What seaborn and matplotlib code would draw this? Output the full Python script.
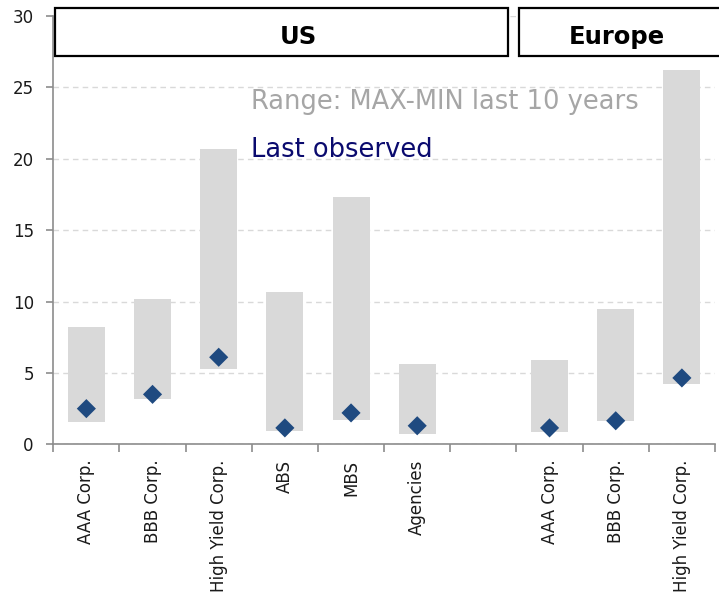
import matplotlib
matplotlib.use("Agg")
import matplotlib.pyplot as plt
from matplotlib.patches import Rectangle
import numpy as np
import pandas as pd
import seaborn as sns

# Spread ranges by segment (max/min over the last 10 years) and latest reading
categories = ["AAA Corp.", "BBB Corp.", "High Yield Corp.", "ABS", "MBS", "Agencies",
              "AAA Corp.", "BBB Corp.", "High Yield Corp."]
regions = ["US", "US", "US", "US", "US", "US", "Europe", "Europe", "Europe"]
range_max = [8.2, 10.15, 20.7, 10.65, 17.3, 5.6, 5.9, 9.45, 26.2]
range_min = [1.55, 3.15, 5.3, 0.95, 1.7, 0.75, 0.85, 1.6, 4.2]
last_observed = [2.5, 3.5, 6.1, 1.15, 2.2, 1.3, 1.15, 1.65, 4.65]
y_ticks = [0, 5, 10, 15, 20, 25, 30]

# Slot positions: one empty slot separates the US block from the European block
positions = [0, 1, 2, 3, 4, 5, 7, 8, 9]

df = pd.DataFrame({
    "pos": positions,
    "label": categories,
    "region": regions,
    "low": range_min,
    "span": np.array(range_max) - np.array(range_min),
    "last": last_observed,
})

sns.set_theme(style="white")
plt.rcParams["font.family"] = ["DejaVu Sans"]

fig = plt.figure(figsize=(7.19, 5.96), dpi=100)
ax = fig.add_axes([0.0741, 0.2545, 0.9203, 0.7185])

sns.barplot(data=df, x="pos", y="span", bottom=df["low"].to_numpy(), native_scale=True,
            width=0.56, color="#d9d9d9", saturation=1, edgecolor="none",
            errorbar=None, ax=ax, zorder=2)
sns.scatterplot(data=df, x="pos", y="last", marker="D", s=95, color="#1f4a80",
                edgecolor="none", ax=ax, zorder=3, legend=False)

ax.set_xlim(-0.5, 9.5)
ax.set_ylim(0, 30)
ax.set_yticks(y_ticks)
ax.set_yticklabels([str(t) for t in y_ticks], fontsize=12, color="#1a1a1a")

# Category labels at slot centres, tick marks at slot boundaries
ax.set_xticks(positions)
ax.set_xticklabels(categories, rotation=90, fontsize=12, color="#1a1a1a")
ax.tick_params(axis="x", length=0, pad=11)
ax.set_xticks(np.arange(-0.5, 10.0, 1.0), minor=True)
ax.tick_params(axis="x", which="minor", length=6, color="#8c8c8c", width=1.2, bottom=True)
ax.tick_params(axis="y", length=5, color="#8c8c8c", width=1.2, left=True, pad=9)
ax.set_xlabel("")
ax.set_ylabel("")

ax.yaxis.grid(True, linestyle=(0, (4, 3)), color="#d9d9d9", linewidth=1)
ax.set_axisbelow(True)
for side in ["top", "right"]:
    ax.spines[side].set_visible(False)
for side in ["left", "bottom"]:
    ax.spines[side].set_color("#8c8c8c")
    ax.spines[side].set_linewidth(1.2)

# Region header boxes
for x0, x1, xc, name in [(-0.47, 6.37, 3.2, "US"), (6.54, 10.2, 8.02, "Europe")]:
    ax.add_patch(Rectangle((x0, 27.2), x1 - x0, 3.35, facecolor="white",
                           edgecolor="black", linewidth=1.6, clip_on=False, zorder=4))
    ax.text(xc, 28.55, name, ha="center", va="center", fontsize=17.5,
            fontweight="bold", color="black", zorder=5, clip_on=False)

# Inline legend
ax.text(2.49, 23.95, "Range: MAX-MIN last 10 years", ha="left", va="center",
        fontsize=18.5, color="#a6a6a6", zorder=5)
ax.text(2.49, 20.65, "Last observed", ha="left", va="center",
        fontsize=18.5, color="#0a0a6e", zorder=5)

fig.savefig("out.png", dpi=100)
